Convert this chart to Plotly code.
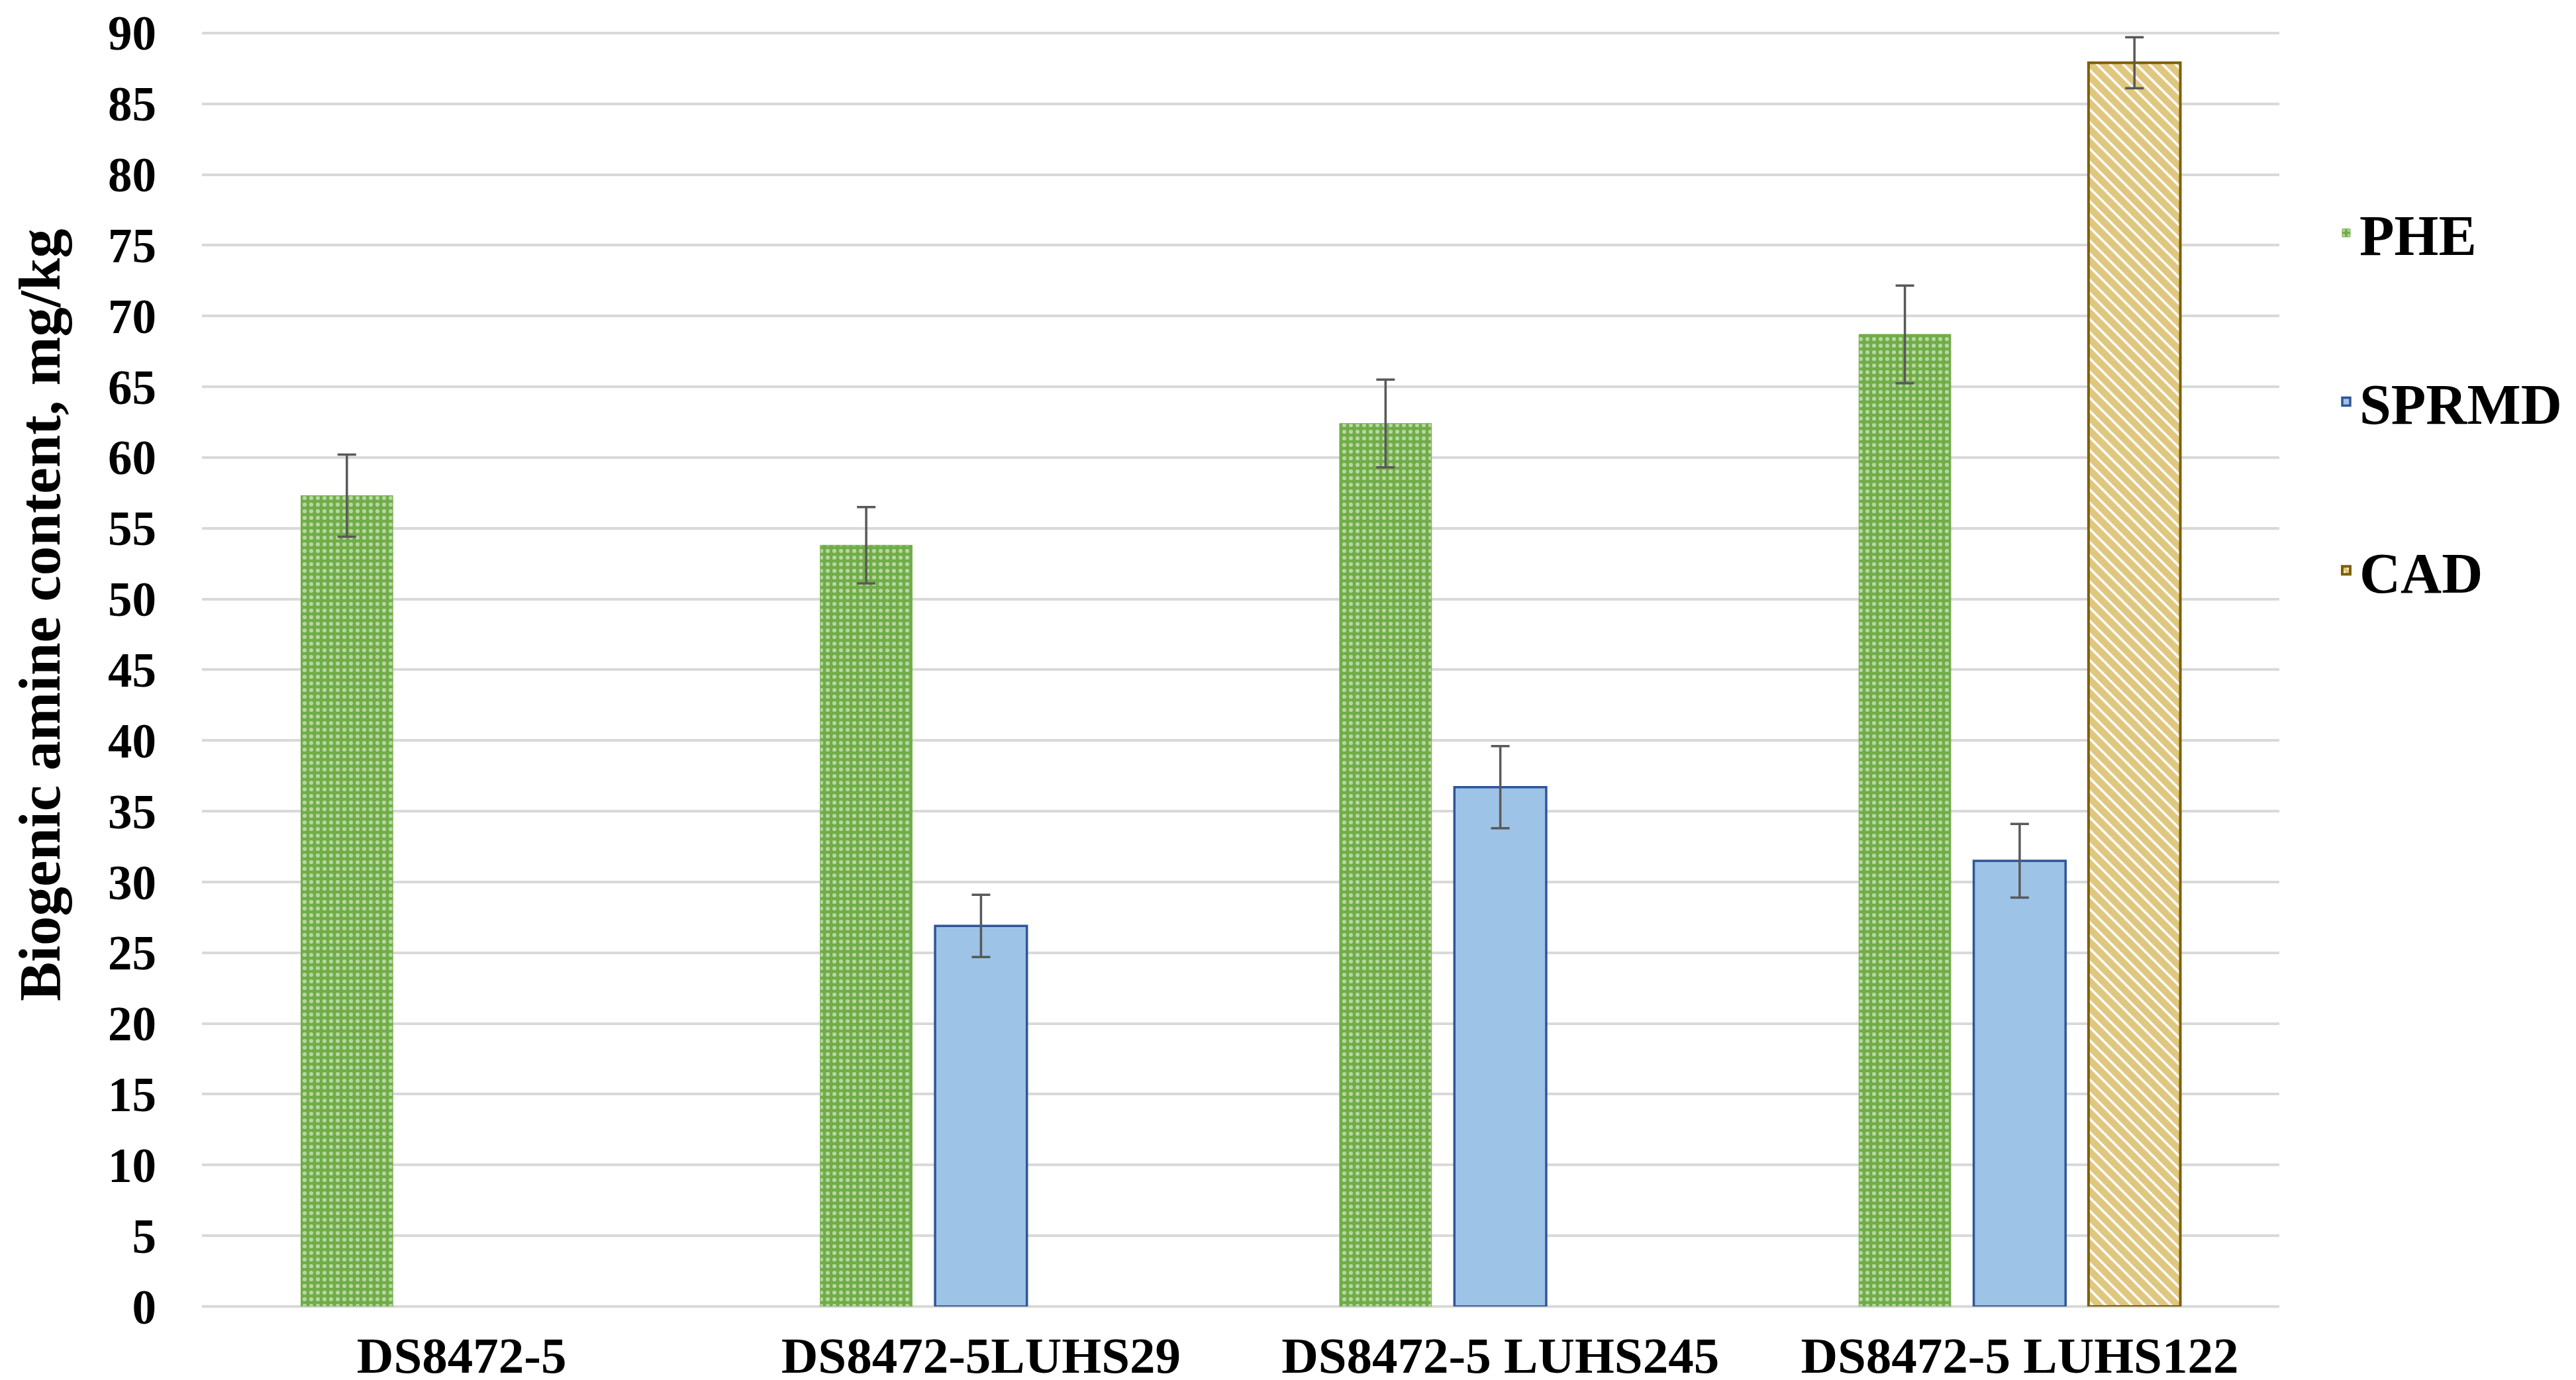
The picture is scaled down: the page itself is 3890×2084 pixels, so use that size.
import plotly.graph_objects as go

categories = ["DS8472-5", "DS8472-5LUHS29", "DS8472-5 LUHS245", "DS8472-5 LUHS122"]
phe = [57.3, 53.8, 62.4, 68.7]
phe_err = [2.9, 2.7, 3.1, 3.45]
sprmd = [None, 26.9, 36.7, 31.5]
sprmd_err = [None, 2.2, 2.9, 2.6]
cad = [None, None, None, 87.9]
cad_err = [None, None, None, 1.8]
y_ticks = list(range(0, 95, 5))

FONT = "Liberation Serif"
W, H = 3890, 2084
Y_TOP = 90.6
Y90 = 42
ML, MR, MB = 297, 456, 119
MT = round(Y90 - (Y_TOP - 90) * (H - MB - Y90) / 90)

err_style = dict(type="data", visible=True, color="#595959", thickness=3.5, width=14)

fig = go.Figure()
fig.add_trace(go.Bar(
    name="PHE", x=categories, y=phe,
    error_y=dict(array=phe_err, **err_style),
    marker=dict(color="#70AD47", line=dict(color="#70AD47", width=1),
                pattern=dict(shape=".", fgcolor="white", bgcolor="#70AD47",
                             size=10, solidity=0.3)),
    legendgroup="a",
))
fig.add_trace(go.Bar(
    name="SPRMD", x=categories, y=sprmd,
    error_y=dict(array=sprmd_err, **err_style),
    marker=dict(color="#9DC3E6", line=dict(color="#2F5597", width=3.5)),
    legendgroup="b",
))
fig.add_trace(go.Bar(
    name="CAD", x=categories, y=cad,
    error_y=dict(array=cad_err, **err_style),
    marker=dict(color="#BF9000", line=dict(color="#7F6000", width=4),
                pattern=dict(shape="\\", fgcolor="#BF9000", bgcolor="white",
                             size=14, solidity=0.75)),
    legendgroup="c",
))

plot_w = W - ML - MR
plot_h = H - MT - MB

fig.update_layout(
    width=W, height=H,
    margin=dict(l=ML, r=MR, t=MT, b=MB, pad=0),
    paper_bgcolor="white", plot_bgcolor="white",
    barmode="group", bargap=0.337, bargroupgap=0.2,
    font=dict(family=FONT, color="black"),
    showlegend=True,
    legend=dict(
        xref="container", yref="container",
        x=0.9036, y=0.865, xanchor="left", yanchor="top",
        font=dict(family=FONT, size=86, color="black", weight="bold"),
        tracegroupgap=140, bgcolor="rgba(0,0,0,0)",
        itemwidth=30,
    ),
    xaxis=dict(
        type="category", categoryorder="array", categoryarray=categories,
        showgrid=False, showline=False, zeroline=False, automargin=False,
        ticks="", ticklabelstandoff=22,
        tickfont=dict(family=FONT, size=77, color="black", weight="bold"),
    ),
    yaxis=dict(
        range=[0, Y_TOP], tickvals=y_ticks, ticktext=[str(v) for v in y_ticks],
        showgrid=True, gridcolor="#D9D9D9", gridwidth=3.5,
        zeroline=True, zerolinecolor="#D9D9D9", zerolinewidth=3.5,
        showline=False, automargin=False, ticklabeloverflow="allow",
        ticks="", ticklabelstandoff=68,
        tickfont=dict(family=FONT, size=73, color="black", weight="bold"),
    ),
    annotations=[dict(
        text="Biogenic amine content, mg/kg",
        xref="paper", yref="paper",
        x=(52 - ML) / plot_w, y=(H - MB - 921) / plot_h,
        xanchor="center", yanchor="middle", textangle=-90, showarrow=False,
        font=dict(family=FONT, size=89, color="black", weight="bold"),
    )],
)

fig.write_html("out.html")
